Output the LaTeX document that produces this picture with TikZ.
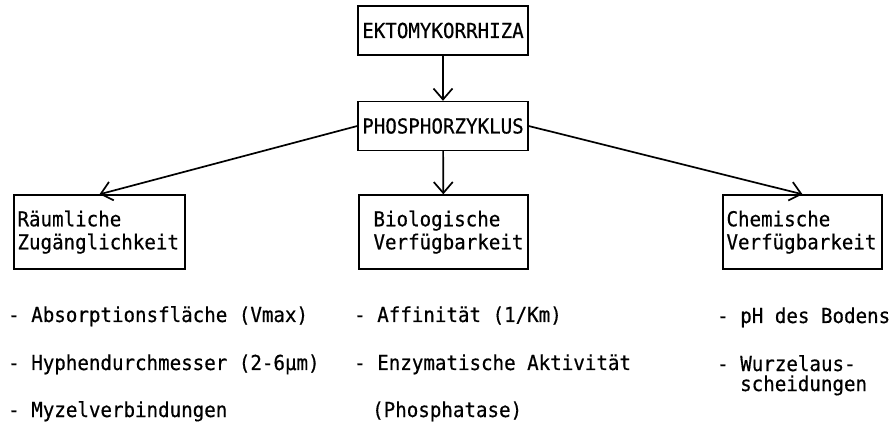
\documentclass[tikz,border=0pt]{standalone}
\usepackage{fontspec}
\setmonofont[FakeStretch=0.93,FakeBold=0.5]{DejaVu Sans Mono}
\usetikzlibrary{arrows.meta}
\begin{document}
\begin{tikzpicture}[x=1pt,y=-1pt,
  every node/.style={font=\ttfamily\fontsize{20.6}{23}\selectfont},
  box/.style={draw, line width=1.4pt, inner sep=0pt},
  topbox/.style={box, minimum width=170pt, minimum height=49pt},
  txt/.style={anchor=base west, inner sep=0pt},
  arr/.style={line width=1.7pt, -{Straight Barb[length=11pt,width=19pt,line width=1.7pt]}}
]
\useasboundingbox (0,0) rectangle (895,422);

% top boxes
\node[topbox] (ekto) at (443,30.5) {EKTOMYKORRHIZA};
\node[topbox] (phos) at (443,126) {PHOSPHORZYKLUS};

% lower boxes
\node[box, minimum width=171pt, minimum height=74pt] (raum) at (99.5,232) {};
\node[box, minimum width=169pt, minimum height=74pt] (bio) at (443.5,232) {};
\node[box, minimum width=159pt, minimum height=74pt] (chem) at (802.5,232) {};

\node[txt] (raum1) at ([shift={(4,32)}]raum.north west) {Räumliche};
\node[txt] (raum2) at ([shift={(4,55)}]raum.north west) {Zugänglichkeit};
\node[txt] (bio1) at ([shift={(15,32)}]bio.north west) {Biologische};
\node[txt] (bio2) at ([shift={(15,55)}]bio.north west) {Verfügbarkeit};
\node[txt] (chem1) at ([shift={(4,32)}]chem.north west) {Chemische};
\node[txt] (chem2) at ([shift={(4,55)}]chem.north west) {Verfügbarkeit};

% connectors
\draw[arr] (ekto) -- (phos);
\draw[arr] (phos.west) -- (raum.north);
\draw[arr] (phos) -- (bio);
\draw[arr] (phos.east) -- (chem.north);

% lists
\node[txt] (l1) at (8,322) {- Absorptionsfläche (Vmax)};
\node[txt] (l2) at (8,370) {- Hyphendurchmesser (2-6µm)};
\node[txt] (l3) at (8,417) {- Myzelverbindungen};
\node[txt] (m1) at (354,322) {- Affinität (1/Km)};
\node[txt] (m2) at (354,370) {- Enzymatische Aktivität};
\node[txt] (m3) at (372,417) {(Phosphatase)};
\node[txt] (r1) at (717,323) {- pH des Bodens};
\node[txt] (r2) at (717,371) {- Wurzelaus-};
\node[txt] (r3) at (740,391) {scheidungen};
\end{tikzpicture}
\end{document}
